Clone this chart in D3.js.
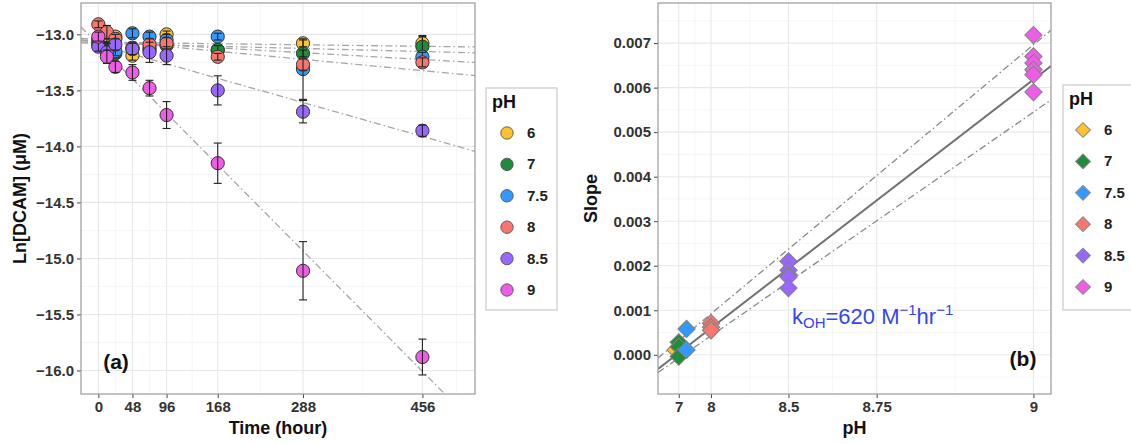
<!DOCTYPE html>
<html lang="en">
<head>
  <meta charset="utf-8">
  <script src="https://d3js.org/d3.v7.min.js"></script>
  <style>
    body { margin: 0; background: #fff; }
    svg { font-family: "Liberation Sans", Arial, sans-serif; }
    .tick text { font-weight: bold; fill: #333; font-size: 15px; }
  </style>
</head>
<body>
  <svg width="1131" height="444"></svg>
  <script>
    // pH groups and fill colours
    const phLevels = ["6", "7", "7.5", "8", "8.5", "9"];
    const phColors = ["#FDC22E", "#1E8C3A", "#3399FF", "#F8766D", "#9966FF", "#EF5DE6"];

    // panel (a): ln[DCAM] vs time
    const times = [0, 12, 24, 48, 72, 96, 168, 288, 456];
    const lnPh6 = [-13.05, -13.08, -13.02, -13.19, -13.12, -13.00, -13.14, -13.08, -13.08];
    const lnPh7 = [-13.08, -13.12, -13.17, -13.13, -13.14, -13.10, -13.14, -13.17, -13.11];
    const lnPh75 = [-13.10, -13.15, -13.15, -12.99, -13.02, -13.05, -13.02, -13.31, -13.20];
    const lnPh8 = [-12.91, -12.98, -13.04, -13.12, -13.09, -13.08, -13.20, -13.27, -13.25];
    const lnPh85 = [-13.11, -13.16, -13.09, -13.13, -13.16, -13.19, -13.50, -13.69, -13.86];
    const lnPh9 = [-13.02, -13.20, -13.29, -13.34, -13.48, -13.72, -14.15, -15.11, -15.88];
    const errPh6 = [0.03, 0.04, 0.03, 0.04, 0.05, 0.03, 0.03, 0.03, 0.07];
    const errPh7 = [0.04, 0.05, 0.04, 0.04, 0.05, 0.04, 0.04, 0.03, 0.09];
    const errPh75 = [0.04, 0.05, 0.04, 0.04, 0.04, 0.05, 0.03, 0.27, 0.04];
    const errPh8 = [0.03, 0.06, 0.04, 0.05, 0.05, 0.05, 0.03, 0.05, 0.04];
    const errPh85 = [0.04, 0.08, 0.05, 0.05, 0.09, 0.08, 0.13, 0.10, 0.05];
    const errPh9 = [0.04, 0.06, 0.05, 0.07, 0.07, 0.12, 0.18, 0.26, 0.16];
    const fitIntercepts = [-13.07, -13.08, -13.06, -13.05, -13.09, -13.09];
    const fitSlopes = [-0.00008, -0.00016, -0.00036, -0.00060, -0.00180, -0.00640];
    const timeTicks = [0, 48, 96, 168, 288, 456];
    const lnTicks = [-13.0, -13.5, -14.0, -14.5, -15.0, -15.5, -16.0];

    // panel (b): slope vs pH (x drawn on [OH-])
    const slopePh6 = [0.00011];
    const slopePh7 = [0.00028, 0.00018, -0.00004];
    const slopePh75 = [0.00058, 0.00011];
    const slopePh8 = [0.00071, 0.00062, 0.00055];
    const slopePh85 = [0.00210, 0.00190, 0.00180, 0.00175, 0.00150];
    const slopePh9 = [0.00718, 0.00670, 0.00655, 0.00640, 0.00629, 0.00590];
    const phValues = [6, 7, 7.5, 8, 8.5, 9];
    const kOH = 620, fitB = -0.00002;
    const bandSlopes = [671, 558], bandIntercepts = [0.00025, -0.00013];
    const phTicks = [7, 8, 8.5, 8.75, 9];
    const slopeTicks = [0, 0.001, 0.002, 0.003, 0.004, 0.005, 0.006, 0.007];

    const lnMeans = [lnPh6, lnPh7, lnPh75, lnPh8, lnPh85, lnPh9];
    const lnErrs = [errPh6, errPh7, errPh75, errPh8, errPh85, errPh9];
    const slopeVals = [slopePh6, slopePh7, slopePh75, slopePh8, slopePh85, slopePh9];
    const oh = ph => Math.pow(10, ph - 14);

    const svg = d3.select("svg");

    function panel(x0, x1, y0, y1) {
      return { x0, x1, y0, y1 };
    }

    function drawGrid(g, x, y, xMajor, xMinor, yMajor, yMinor, p) {
      g.append("rect").attr("x", p.x0).attr("y", p.y0)
        .attr("width", p.x1 - p.x0).attr("height", p.y1 - p.y0).attr("fill", "#fff");
      g.selectAll(".vmin").data(xMinor).join("line")
        .attr("x1", d => x(d)).attr("x2", d => x(d)).attr("y1", p.y0).attr("y2", p.y1)
        .attr("stroke", "#f2f2f2").attr("stroke-width", 0.7);
      g.selectAll(".hmin").data(yMinor).join("line")
        .attr("y1", d => y(d)).attr("y2", d => y(d)).attr("x1", p.x0).attr("x2", p.x1)
        .attr("stroke", "#f2f2f2").attr("stroke-width", 0.7);
      g.selectAll(".vmaj").data(xMajor).join("line")
        .attr("x1", d => x(d)).attr("x2", d => x(d)).attr("y1", p.y0).attr("y2", p.y1)
        .attr("stroke", "#e8e8e8").attr("stroke-width", 1.1);
      g.selectAll(".hmaj").data(yMajor).join("line")
        .attr("y1", d => y(d)).attr("y2", d => y(d)).attr("x1", p.x0).attr("x2", p.x1)
        .attr("stroke", "#e8e8e8").attr("stroke-width", 1.1);
    }

    function drawAxes(g, x, y, xTicks, yTicks, xFmt, yFmt, p) {
      const ax = g.append("g").attr("transform", `translate(0,${p.y1})`)
        .call(d3.axisBottom(x).tickValues(xTicks).tickFormat(xFmt).tickSize(4).tickPadding(3));
      const ay = g.append("g").attr("transform", `translate(${p.x0},0)`)
        .call(d3.axisLeft(y).tickValues(yTicks).tickFormat(yFmt).tickSize(4).tickPadding(3));
      [ax, ay].forEach(a => {
        a.select(".domain").remove();
        a.selectAll(".tick line").attr("stroke", "#444");
      });
      g.append("rect").attr("x", p.x0).attr("y", p.y0)
        .attr("width", p.x1 - p.x0).attr("height", p.y1 - p.y0)
        .attr("fill", "none").attr("stroke", "#999").attr("stroke-width", 1.2);
    }

    function legend(cx, cy, w, h, shape) {
      const g = svg.append("g");
      g.append("rect").attr("x", cx).attr("y", cy).attr("width", w).attr("height", h)
        .attr("fill", "#fff").attr("stroke", "#c8c8c8").attr("stroke-width", 1.2);
      g.append("text").attr("x", cx + 6).attr("y", cy + 20).text("pH")
        .attr("font-weight", "bold").attr("font-size", 18).attr("fill", "#111");
      phLevels.forEach((lab, i) => {
        const ky = cy + 45 + i * 31.4;
        if (shape === "circle") {
          g.append("circle").attr("cx", cx + 21).attr("cy", ky).attr("r", 6.2)
            .attr("fill", phColors[i]).attr("stroke", "#555").attr("stroke-width", 0.9);
        } else {
          g.append("path").attr("d", d3.symbol(d3.symbolSquare, 110)())
            .attr("transform", `translate(${cx + 20},${ky}) rotate(45)`)
            .attr("fill", phColors[i]).attr("stroke", "#888").attr("stroke-width", 1);
        }
        g.append("text").attr("x", cx + 41).attr("y", ky + 5).text(lab)
          .attr("font-weight", "bold").attr("font-size", 15).attr("fill", "#222");
      });
    }

    // ---------- panel (a) ----------
    const pa = panel(81, 475, 3, 394);
    const xa = d3.scaleLinear().domain([-24.4, 530]).range([pa.x0, pa.x1]);
    const ya = d3.scaleLinear().domain([-16.21, -12.72]).range([pa.y1, pa.y0]);
    const ga = svg.append("g");
    const timeMinor = [24, 72, 132, 228, 372, 504];
    drawGrid(ga, xa, ya, timeTicks, timeMinor, lnTicks, [-12.75, -13.25, -13.75, -14.25, -14.75, -15.25, -15.75], pa);

    svg.append("clipPath").attr("id", "clipA").append("rect")
      .attr("x", pa.x0).attr("y", pa.y0).attr("width", pa.x1 - pa.x0).attr("height", pa.y1 - pa.y0);
    const la = ga.append("g").attr("clip-path", "url(#clipA)");
    fitSlopes.forEach((s, i) => {
      const t0 = -24.4, t1 = 530;
      la.append("line")
        .attr("x1", xa(t0)).attr("y1", ya(fitIntercepts[i] + s * t0))
        .attr("x2", xa(t1)).attr("y2", ya(fitIntercepts[i] + s * t1))
        .attr("stroke", "#a6a6a6").attr("stroke-width", 1.3)
        .attr("stroke-dasharray", "7,3,1.5,3");
    });

    phLevels.forEach((lab, i) => {
      const pts = times.map((t, j) => ({ t, v: lnMeans[i][j], e: lnErrs[i][j] }));
      const gp = la.append("g");
      gp.selectAll("circle").data(pts).join("circle")
        .attr("cx", d => xa(d.t)).attr("cy", d => ya(d.v)).attr("r", 6.6)
        .attr("fill", phColors[i]).attr("stroke", "#333").attr("stroke-width", 1);
      const eb = gp.selectAll(".eb").data(pts).join("g").attr("stroke", "#222").attr("stroke-width", 1.1);
      eb.append("line").attr("x1", d => xa(d.t)).attr("x2", d => xa(d.t))
        .attr("y1", d => ya(d.v - d.e)).attr("y2", d => ya(d.v + d.e));
      eb.append("line").attr("x1", d => xa(d.t) - 4).attr("x2", d => xa(d.t) + 4)
        .attr("y1", d => ya(d.v - d.e)).attr("y2", d => ya(d.v - d.e));
      eb.append("line").attr("x1", d => xa(d.t) - 4).attr("x2", d => xa(d.t) + 4)
        .attr("y1", d => ya(d.v + d.e)).attr("y2", d => ya(d.v + d.e));
    });
    drawAxes(ga, xa, ya, timeTicks, lnTicks, d3.format("d"), d3.format(".1f"), pa);

    ga.append("text").attr("x", 116).attr("y", 369).text("(a)")
      .attr("font-weight", "bold").attr("font-size", 21).attr("fill", "#111").attr("text-anchor", "middle");
    ga.append("text").attr("x", (pa.x0 + pa.x1) / 2).attr("y", 434).text("Time (hour)")
      .attr("font-weight", "bold").attr("font-size", 18).attr("fill", "#111").attr("text-anchor", "middle");
    ga.append("text").attr("transform", `translate(26,${(pa.y0 + pa.y1) / 2}) rotate(-90)`)
      .text("Ln[DCAM] (μM)")
      .attr("font-weight", "bold").attr("font-size", 18).attr("fill", "#111").attr("text-anchor", "middle");

    legend(486, 88, 71, 222, "circle");

    // ---------- panel (b) ----------
    const pb = panel(658, 1051, 3, 394);
    const xb = d3.scaleLinear().domain([-4.8e-7, 1.049e-5]).range([pb.x0, pb.x1]);
    const yb = d3.scaleLinear().domain([-0.00088, 0.0079]).range([pb.y1, pb.y0]);
    const gb = svg.append("g");
    const phMinor = [];
    const majOH = phTicks.map(oh);
    for (let i = 0; i < majOH.length - 1; i++) phMinor.push((majOH[i] + majOH[i + 1]) / 2);
    drawGrid(gb, xb, yb, majOH, phMinor,
      slopeTicks, [-0.0005, 0.0005, 0.0015, 0.0025, 0.0035, 0.0045, 0.0055, 0.0065, 0.0075], pb);

    svg.append("clipPath").attr("id", "clipB").append("rect")
      .attr("x", pb.x0).attr("y", pb.y0).attr("width", pb.x1 - pb.x0).attr("height", pb.y1 - pb.y0);
    const lb = gb.append("g").attr("clip-path", "url(#clipB)");
    const [o0, o1] = xb.domain();
    bandSlopes.forEach((s, i) => {
      lb.append("line")
        .attr("x1", xb(o0)).attr("y1", yb(bandIntercepts[i] + s * o0))
        .attr("x2", xb(o1)).attr("y2", yb(bandIntercepts[i] + s * o1))
        .attr("stroke", "#8a8a8a").attr("stroke-width", 1.3)
        .attr("stroke-dasharray", "7,3,1.5,3");
    });
    lb.append("line")
      .attr("x1", xb(o0)).attr("y1", yb(fitB + kOH * o0))
      .attr("x2", xb(o1)).attr("y2", yb(fitB + kOH * o1))
      .attr("stroke", "#707070").attr("stroke-width", 2);

    phLevels.forEach((lab, i) => {
      lb.selectAll(null).data(slopeVals[i]).join("path")
        .attr("d", d3.symbol(d3.symbolSquare, 150)())
        .attr("transform", d => `translate(${xb(oh(phValues[i]))},${yb(d)}) rotate(45)`)
        .attr("fill", phColors[i]).attr("stroke", "#808080").attr("stroke-width", 1);
    });
    drawAxes(gb, xb, yb, majOH, slopeTicks,
      (d, i) => String(phTicks[i]), d3.format(".3f"), pb);

    gb.append("text").attr("x", 1023).attr("y", 366).text("(b)")
      .attr("font-weight", "bold").attr("font-size", 21).attr("fill", "#111").attr("text-anchor", "middle");
    gb.append("text").attr("x", (pb.x0 + pb.x1) / 2).attr("y", 434).text("pH")
      .attr("font-weight", "bold").attr("font-size", 18).attr("fill", "#111").attr("text-anchor", "middle");
    gb.append("text").attr("transform", `translate(597,${(pb.y0 + pb.y1) / 2}) rotate(-90)`)
      .text("Slope")
      .attr("font-weight", "bold").attr("font-size", 18).attr("fill", "#111").attr("text-anchor", "middle");

    const kt = gb.append("text").attr("x", 792).attr("y", 324)
      .attr("font-size", 22).attr("fill", "#3344FF");
    kt.append("tspan").text("k");
    kt.append("tspan").text("OH").attr("font-size", 15).attr("dy", 4);
    kt.append("tspan").text("=620 M").attr("dy", -4);
    kt.append("tspan").text("−1").attr("font-size", 15).attr("dy", -9);
    kt.append("tspan").text("hr").attr("dy", 9);
    kt.append("tspan").text("−1").attr("font-size", 15).attr("dy", -9);

    legend(1063, 85, 80, 225, "diamond");
  </script>
</body>
</html>
